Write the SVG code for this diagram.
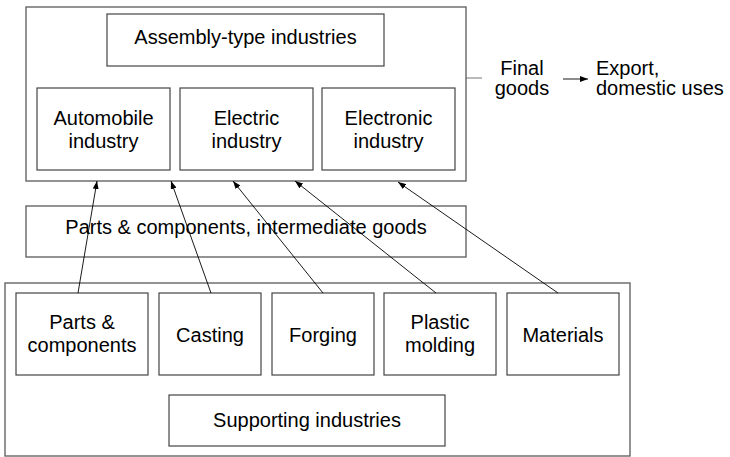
<svg xmlns="http://www.w3.org/2000/svg" width="730" height="457" viewBox="0 0 730 457">
<defs>
<marker id="ah" viewBox="0 0 8 6" refX="8" refY="3" markerWidth="8" markerHeight="6" markerUnits="userSpaceOnUse" orient="auto">
<path d="M0,0 L8,3 L0,6 z" fill="#000"/>
</marker>
<style>
.outer{fill:#fff;stroke:#666;stroke-width:1.4}
.box{fill:#fff;stroke:#444;stroke-width:1.2}
text{font-family:"Liberation Sans",Arial,sans-serif;font-size:20px;fill:#000}
.c{text-anchor:middle}
.conn{stroke:#000;stroke-width:0.9;fill:none}
</style>
</defs>
<rect width="730" height="457" fill="#fff"/>
<g id="assembly-group">
<rect class="outer" x="26" y="7" width="440" height="174"/>
</g>
<g id="assembly-type">
<rect class="box" x="107" y="14" width="277" height="52"/>
<text class="c" x="245.5" y="44">Assembly-type industries</text>
</g>
<g id="automobile">
<rect class="box" x="37" y="88" width="133" height="82"/>
<text class="c" x="103.5" y="125">Automobile</text>
<text class="c" x="103.5" y="148">industry</text>
</g>
<g id="electric">
<rect class="box" x="180" y="88" width="133" height="82"/>
<text class="c" x="246.5" y="125">Electric</text>
<text class="c" x="246.5" y="148">industry</text>
</g>
<g id="electronic">
<rect class="box" x="322" y="88" width="133" height="82"/>
<text class="c" x="388.5" y="125">Electronic</text>
<text class="c" x="388.5" y="148">industry</text>
</g>
<g id="intermediate">
<rect class="outer" x="26" y="206" width="440" height="51"/>
<text class="c" x="246" y="234">Parts &amp; components, intermediate goods</text>
</g>
<g id="supporting-group">
<rect class="outer" x="5" y="283" width="625" height="173"/>
</g>
<g id="parts">
<rect class="box" x="16" y="293" width="132" height="82"/>
<text class="c" x="82" y="329">Parts &amp;</text>
<text class="c" x="82" y="352">components</text>
</g>
<g id="casting">
<rect class="box" x="159" y="293" width="102" height="82"/>
<text class="c" x="210" y="342">Casting</text>
</g>
<g id="forging">
<rect class="box" x="272" y="293" width="102" height="82"/>
<text class="c" x="323" y="342">Forging</text>
</g>
<g id="plastic">
<rect class="box" x="384" y="293" width="112" height="82"/>
<text class="c" x="440" y="329">Plastic</text>
<text class="c" x="440" y="352">molding</text>
</g>
<g id="materials">
<rect class="box" x="507" y="293" width="112" height="82"/>
<text class="c" x="563" y="342">Materials</text>
</g>
<g id="supporting">
<rect class="box" x="169" y="395" width="276" height="51"/>
<text class="c" x="307" y="427">Supporting industries</text>
</g>
<g id="final-goods">
<text class="c" x="522" y="75">Final</text>
<text class="c" x="522" y="95">goods</text>
</g>
<g id="export">
<text x="596" y="75">Export,</text>
<text x="596" y="95">domestic uses</text>
</g>
<g id="connectors">
<line class="conn" x1="466" y1="78" x2="482" y2="78" style="stroke:#666"/>
<line class="conn" x1="563" y1="79" x2="588" y2="79" marker-end="url(#ah)"/>
<line class="conn" x1="78" y1="293" x2="97" y2="181" marker-end="url(#ah)"/>
<line class="conn" x1="211" y1="293" x2="171" y2="181" marker-end="url(#ah)"/>
<line class="conn" x1="323" y1="293" x2="233" y2="181" marker-end="url(#ah)"/>
<line class="conn" x1="436" y1="293" x2="295" y2="181" marker-end="url(#ah)"/>
<line class="conn" x1="558" y1="293" x2="398" y2="182" marker-end="url(#ah)"/>
</g>
</svg>
